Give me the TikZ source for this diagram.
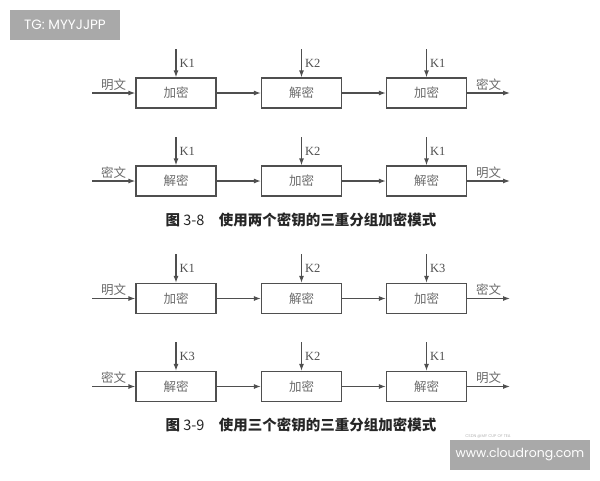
\documentclass[tikz,border=0pt]{standalone}
\usepackage{fontspec}
\usetikzlibrary{arrows.meta}
\setmainfont{Liberation Serif}
\newfontfamily\cjk{Noto Sans CJK SC}
\newfontfamily\tagfont{Poppins}
\definecolor{linegray}{HTML}{4F4F4F}
\definecolor{textgray}{HTML}{6A6A6A}
\definecolor{taggray}{HTML}{A9A9A9}

\begin{document}
\begin{tikzpicture}[x=1pt,y=-1pt,
    blk/.style={draw=linegray, line width=1.2pt, minimum width=80pt, minimum height=30pt, inner sep=0pt, text=textgray, font=\cjk\fontsize{12.5}{13}\selectfont},
    flow/.style={draw=linegray, line width=1.2pt, -{Latex[length=7pt,width=5pt]}},
    lbl/.style={text=textgray, inner sep=2pt, font=\cjk\fontsize{12.5}{13}\selectfont},
    key/.style={text=linegray, inner sep=3pt, font=\fontsize{12.5}{13}\selectfont},
    figcap/.style={text=black!85, font=\cjk\bfseries\fontsize{14.5}{15}\selectfont},
    tag/.style={fill=taggray, text=white, inner sep=0pt, font=\tagfont\fontsize{13.5}{14}\selectfont}]
    \useasboundingbox (0,0) rectangle (600,480);
    % grey tags
    \node[tag, minimum width=110pt, minimum height=30pt] (tg) at (65,25) {TG: MYYJJPP};
    \node[tag, minimum width=140pt, minimum height=30pt, font=\tagfont\fontsize{12.5}{13}\selectfont] (site) at (520,455) {www.cloudrong.com};
    \node[text=black!30, font=\tagfont\fontsize{4}{4}\selectfont] (mark) at (488,436) {CSDN @MY CUP OF TEA};
    % row 1
    \node[blk] (a1) at (176,93) {加密};
    \node[blk] (a2) at (301.5,93) {解密};
    \node[blk] (a3) at (426.5,93) {加密};
    \coordinate (ain) at (92,93);
    \coordinate (aout) at (510,93);
    \coordinate (ak1) at (176,49);
    \coordinate (ak2) at (301.5,49);
    \coordinate (ak3) at (426.5,49);
    \draw[flow] (ain) -- node[lbl, above] {明文} (a1);
    \draw[flow] (a1) -- (a2);
    \draw[flow] (a2) -- (a3);
    \draw[flow] (a3) -- node[lbl, above] {密文} (aout);
    \draw[flow] (ak1) -- node[key, right] {K1} (a1);
    \draw[flow] (ak2) -- node[key, right] {K2} (a2);
    \draw[flow] (ak3) -- node[key, right] {K1} (a3);
    % row 2
    \node[blk] (b1) at (176,181) {解密};
    \node[blk] (b2) at (301.5,181) {加密};
    \node[blk] (b3) at (426.5,181) {解密};
    \coordinate (bin) at (92,181);
    \coordinate (bout) at (510,181);
    \coordinate (bk1) at (176,137);
    \coordinate (bk2) at (301.5,137);
    \coordinate (bk3) at (426.5,137);
    \draw[flow] (bin) -- node[lbl, above] {密文} (b1);
    \draw[flow] (b1) -- (b2);
    \draw[flow] (b2) -- (b3);
    \draw[flow] (b3) -- node[lbl, above] {明文} (bout);
    \draw[flow] (bk1) -- node[key, right] {K1} (b1);
    \draw[flow] (bk2) -- node[key, right] {K2} (b2);
    \draw[flow] (bk3) -- node[key, right] {K1} (b3);
    \node[figcap] (cap1) at (301,220) {图 {\mdseries 3-8}\quad 使用两个密钥的三重分组加密模式};
    % row 3
    \node[blk] (c1) at (176,298.5) {加密};
    \node[blk] (c2) at (301.5,298.5) {解密};
    \node[blk] (c3) at (426.5,298.5) {加密};
    \coordinate (cin) at (92,298.5);
    \coordinate (cout) at (510,298.5);
    \coordinate (ck1) at (176,254);
    \coordinate (ck2) at (301.5,254);
    \coordinate (ck3) at (426.5,254);
    \draw[flow] (cin) -- node[lbl, above] {明文} (c1);
    \draw[flow] (c1) -- (c2);
    \draw[flow] (c2) -- (c3);
    \draw[flow] (c3) -- node[lbl, above] {密文} (cout);
    \draw[flow] (ck1) -- node[key, right] {K1} (c1);
    \draw[flow] (ck2) -- node[key, right] {K2} (c2);
    \draw[flow] (ck3) -- node[key, right] {K3} (c3);
    % row 4
    \node[blk] (d1) at (176,386.5) {解密};
    \node[blk] (d2) at (301.5,386.5) {加密};
    \node[blk] (d3) at (426.5,386.5) {解密};
    \coordinate (din) at (92,386.5);
    \coordinate (dout) at (510,386.5);
    \coordinate (dk1) at (176,342);
    \coordinate (dk2) at (301.5,342);
    \coordinate (dk3) at (426.5,342);
    \draw[flow] (din) -- node[lbl, above] {密文} (d1);
    \draw[flow] (d1) -- (d2);
    \draw[flow] (d2) -- (d3);
    \draw[flow] (d3) -- node[lbl, above] {明文} (dout);
    \draw[flow] (dk1) -- node[key, right] {K3} (d1);
    \draw[flow] (dk2) -- node[key, right] {K2} (d2);
    \draw[flow] (dk3) -- node[key, right] {K1} (d3);
    \node[figcap] (cap2) at (301,425) {图 {\mdseries 3-9}\quad 使用三个密钥的三重分组加密模式};
\end{tikzpicture}
\end{document}
